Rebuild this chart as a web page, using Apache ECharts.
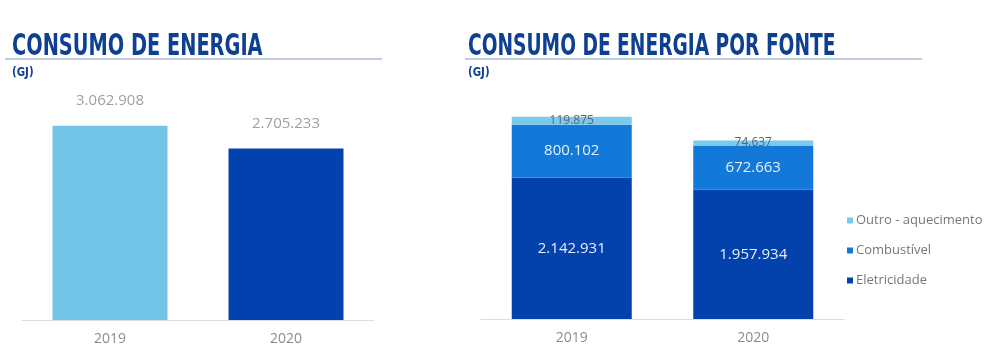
<!DOCTYPE html>
<html>
<head>
<meta charset="utf-8">
<script src="https://cdn.jsdelivr.net/npm/echarts@6/dist/echarts.min.js"></script>
<style>
  html, body { margin: 0; padding: 0; background: #ffffff; }
  #chart { width: 995px; height: 350px; }
</style>
</head>
<body>
<div id="chart"></div>
<script>
// Energy consumption (GJ), total and by source
const years = ['2019', '2020'];
const totalConsumption = [3062908, 2705233];
const electricity = [2142931, 1957934];
const fuel = [800102, 672663];
const otherHeating = [119875, 74637];
const sourceNames = ['Outro - aquecimento', 'Combustível', 'Eletricidade'];

const totalColors = ['#72c5e6', '#0341af'];
const sourceColors = { other: '#7cc9ee', fuel: '#1279d8', elec: '#0342ad' };
const titleBlue = '#0d3f93';
const titleFont = 'bold 30px "Liberation Sans Narrow", "DejaVu Sans Condensed", sans-serif';
const unitFont = 'bold 12px "DejaVu Sans Condensed", sans-serif';
const labelFamily = '"Open Sans", sans-serif';

// Thousands separated by dots
function fmt(v) {
  return String(v).replace(/\B(?=(\d{3})+(?!\d))/g, '.');
}

const chart = echarts.init(document.getElementById('chart'), null, { renderer: 'canvas' });

const xAxisCommon = {
  type: 'category',
  data: years,
  axisLine: { lineStyle: { color: '#dedede', width: 1 } },
  axisTick: { show: false },
  axisLabel: { color: '#8c8c8c', fontSize: 14, margin: 12, fontFamily: labelFamily }
};
const yAxisCommon = { type: 'value', min: 0, max: 3500000, show: false, splitLine: { show: false } };

function stackSeries(name, data, color, labelColor, fontSize) {
  return {
    name: name,
    type: 'bar',
    stack: 'fonte',
    xAxisIndex: 1,
    yAxisIndex: 1,
    barWidth: 120,
    data: data,
    itemStyle: { color: color },
    label: {
      show: true,
      position: 'inside',
      color: labelColor,
      fontSize: fontSize,
      fontFamily: labelFamily,
      formatter: p => fmt(p.value)
    }
  };
}

chart.setOption({
  animation: false,
  graphic: [
    { type: 'text', x: 12, y: 32, scaleX: 0.717, style: { text: 'CONSUMO DE ENERGIA', font: titleFont, fill: titleBlue, verticalAlign: 'top' } },
    { type: 'line', shape: { x1: 5, y1: 59, x2: 382, y2: 59 }, style: { stroke: '#aab9d6', lineWidth: 1.5 } },
    { type: 'text', x: 12, y: 67, scaleX: 0.95, style: { text: '(GJ)', font: unitFont, fill: titleBlue, verticalAlign: 'top' } },

    { type: 'text', x: 468, y: 32, scaleX: 0.69, style: { text: 'CONSUMO DE ENERGIA POR FONTE', font: titleFont, fill: titleBlue, verticalAlign: 'top' } },
    { type: 'line', shape: { x1: 465, y1: 59, x2: 922, y2: 59 }, style: { stroke: '#aab9d6', lineWidth: 1.5 } },
    { type: 'text', x: 468, y: 67, scaleX: 0.95, style: { text: '(GJ)', font: unitFont, fill: titleBlue, verticalAlign: 'top' } }
  ],
  legend: {
    orient: 'vertical',
    left: 842,
    top: 209,
    itemWidth: 6,
    itemHeight: 6,
    itemGap: 17,
    icon: 'rect',
    data: sourceNames,
    textStyle: { color: '#777777', fontSize: 13, fontFamily: labelFamily, padding: [0, 0, 0, -2] }
  },
  grid: [
    { left: 22, width: 352, top: 98, height: 222 },
    { left: 481, width: 363, top: 88, height: 231 }
  ],
  xAxis: [
    Object.assign({ gridIndex: 0 }, xAxisCommon),
    Object.assign({ gridIndex: 1 }, xAxisCommon)
  ],
  yAxis: [
    Object.assign({ gridIndex: 0 }, yAxisCommon),
    Object.assign({ gridIndex: 1 }, yAxisCommon)
  ],
  series: [
    {
      name: 'Total',
      type: 'bar',
      xAxisIndex: 0,
      yAxisIndex: 0,
      barWidth: 115,
      data: totalConsumption.map((v, i) => ({ value: v, itemStyle: { color: totalColors[i] } })),
      label: {
        show: true,
        position: 'top',
        distance: 17,
        color: '#a0a0a0',
        fontSize: 15,
        fontFamily: labelFamily,
        formatter: p => fmt(p.value)
      }
    },
    stackSeries(sourceNames[2], electricity, sourceColors.elec, '#e6eeff', 15),
    stackSeries(sourceNames[1], fuel, sourceColors.fuel, '#e6eeff', 15),
    stackSeries(sourceNames[0], otherHeating, sourceColors.other, '#5e6670', 12)
  ]
});
</script>
</body>
</html>
